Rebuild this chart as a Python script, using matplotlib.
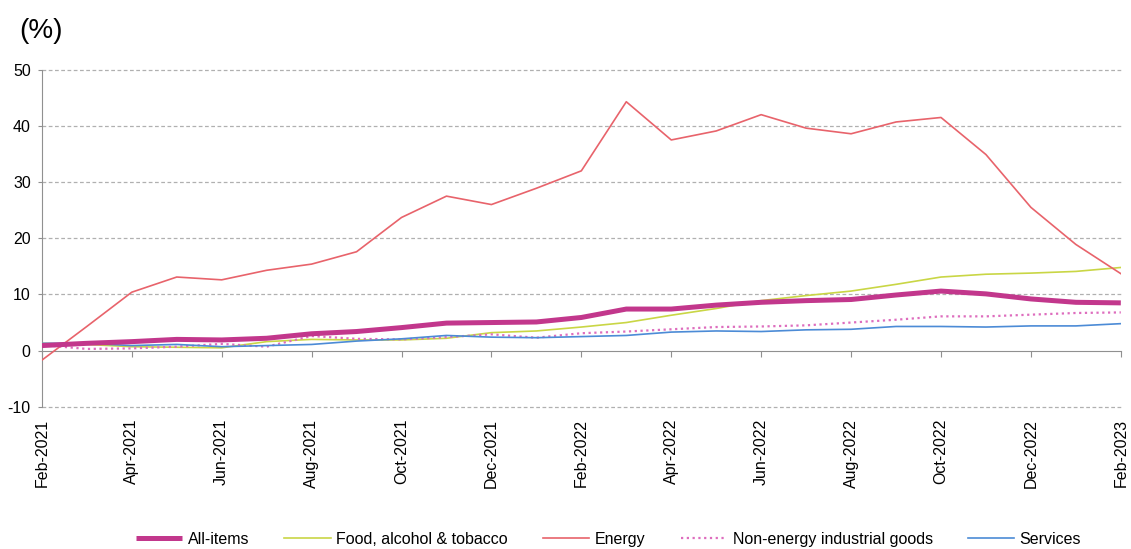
import numpy as np
import matplotlib
matplotlib.use('Agg')
import matplotlib.pyplot as plt

plt.rcParams['font.family'] = ['Liberation Sans', 'DejaVu Sans']
plt.rcParams['axes.unicode_minus'] = False

# monthly annual rates, Feb-2021 .. Feb-2023
months = ['Feb-2021', 'Mar-2021', 'Apr-2021', 'May-2021', 'Jun-2021', 'Jul-2021',
          'Aug-2021', 'Sep-2021', 'Oct-2021', 'Nov-2021', 'Dec-2021', 'Jan-2022',
          'Feb-2022', 'Mar-2022', 'Apr-2022', 'May-2022', 'Jun-2022', 'Jul-2022',
          'Aug-2022', 'Sep-2022', 'Oct-2022', 'Nov-2022', 'Dec-2022', 'Jan-2023',
          'Feb-2023']

all_items = [0.9, 1.3, 1.6, 2.0, 1.9, 2.2, 3.0, 3.4, 4.1, 4.9, 5.0, 5.1,
             5.9, 7.4, 7.4, 8.1, 8.6, 8.9, 9.1, 9.9, 10.6, 10.1, 9.2, 8.6, 8.5]
food = [1.3, 1.1, 0.7, 0.6, 0.5, 1.6, 2.0, 1.9, 1.9, 2.2, 3.2, 3.5,
        4.2, 5.0, 6.3, 7.5, 8.9, 9.8, 10.6, 11.8, 13.1, 13.6, 13.8, 14.1, 14.8]
energy = [-1.7, 4.3, 10.4, 13.1, 12.6, 14.3, 15.4, 17.6, 23.7, 27.5, 26.0, 28.9,
          32.0, 44.3, 37.5, 39.1, 42.0, 39.6, 38.6, 40.7, 41.5, 34.9, 25.5, 18.9, 13.7]
non_energy = [1.0, 0.3, 0.4, 0.7, 1.2, 0.7, 2.6, 2.1, 2.0, 2.4, 2.9, 2.3,
              3.1, 3.4, 3.8, 4.2, 4.3, 4.5, 5.0, 5.5, 6.1, 6.1, 6.4, 6.7, 6.8]
services = [1.3, 1.3, 0.9, 1.1, 0.7, 0.9, 1.1, 1.7, 2.1, 2.7, 2.4, 2.3,
            2.5, 2.7, 3.3, 3.5, 3.4, 3.7, 3.8, 4.3, 4.3, 4.2, 4.4, 4.4, 4.8]

y_ticks = [-10, 0, 10, 20, 30, 40, 50]

fig = plt.figure(figsize=(11.31, 5.49), dpi=100)
ax = fig.add_axes([0.037, 0.259, 0.954, 0.614])

# x axis crosses at zero, labels stay below the plot
ax.spines['top'].set_visible(False)
ax.spines['right'].set_visible(False)
ax.spines['left'].set_color('#909090')
ax.spines['bottom'].set_color('#909090')
ax.spines['bottom'].set_position(('data', 0))

x = np.arange(len(months))

# dashed grid
for v in y_ticks:
    if v != 0:
        ax.axhline(v, color='#b0b0b0', lw=0.9, ls=(0, (3, 2)), zorder=0, clip_on=False)

ax.plot(x, all_items, color='#C2378C', lw=3.6, solid_capstyle='butt', label='All-items', zorder=5)
ax.plot(x, food, color='#C9D645', lw=1.2, label='Food, alcohol & tobacco', zorder=3)
ax.plot(x, energy, color='#E8636B', lw=1.2, label='Energy', zorder=4)
ax.plot(x, non_energy, color='#DE6DBE', lw=1.6, ls=(0, (1, 1.6)),
        label='Non-energy industrial goods', zorder=3)
ax.plot(x, services, color='#4C8BD6', lw=1.2, label='Services', zorder=3)

ax.set_xlim(0, len(months) - 1)
ax.set_ylim(-10, 50)
ax.set_yticks(y_ticks)
ax.set_xticks(x[::2])
ax.set_xticklabels(months[::2], rotation=90, fontsize=11.5)

ax.tick_params(axis='y', length=3, color='#909090', labelsize=11.5, pad=5)
ax.tick_params(axis='x', length=4, color='#909090', pad=45)

fig.text(0.017, 0.943, '(%)', fontsize=20, va='center')

fig.legend(loc='lower center', bbox_to_anchor=(0.538, -0.022), ncol=5, frameon=False,
           fontsize=11.5, handlelength=2.9, columnspacing=2.2, handletextpad=0.35)

fig.savefig('out.png', dpi=100)
